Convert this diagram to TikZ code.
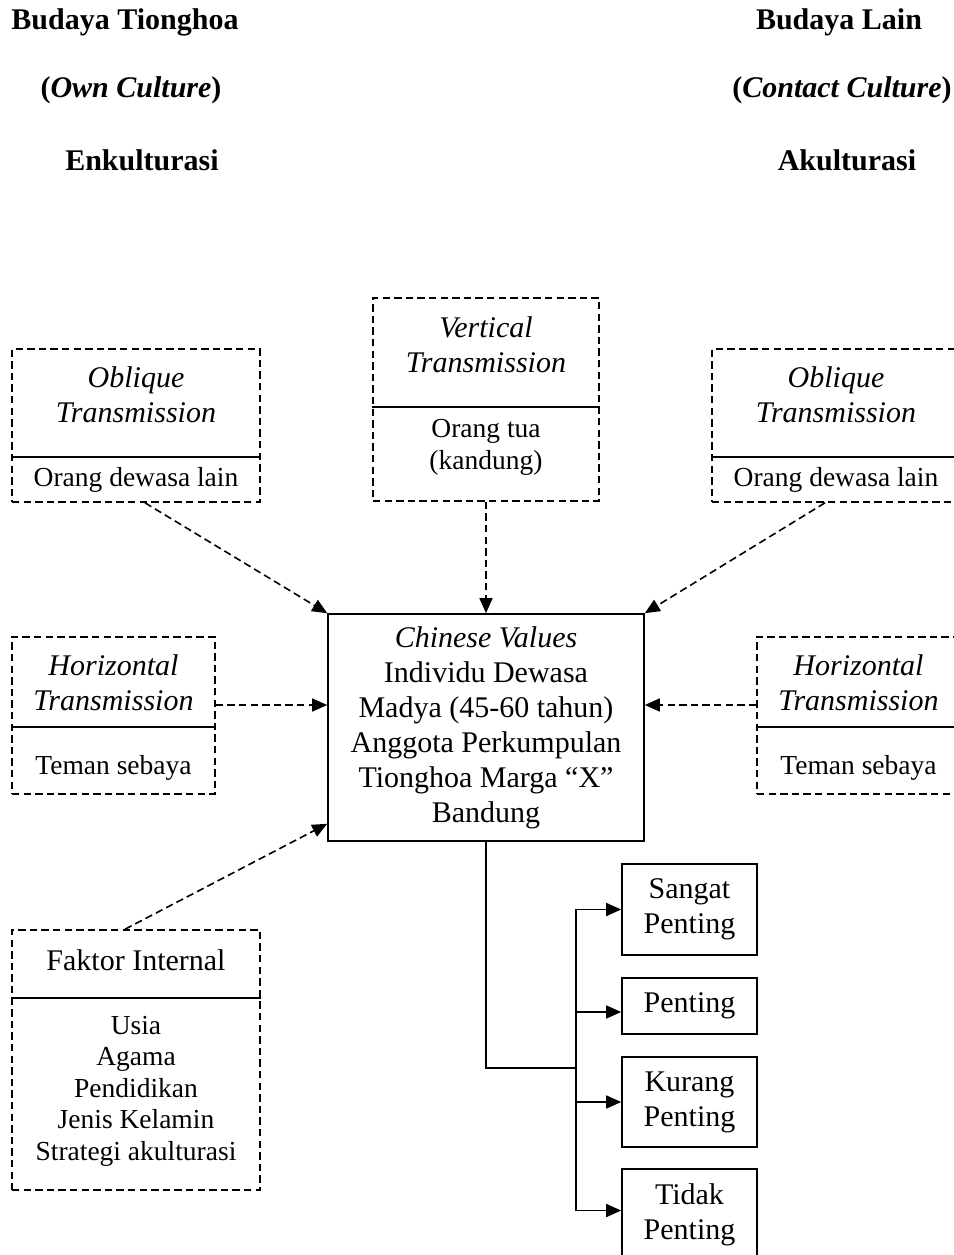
\documentclass[tikz,border=0pt]{standalone}
\usepackage{fontspec}
\setmainfont{Liberation Serif}
\usetikzlibrary{arrows.meta}
\newcommand{\bigfont}{\fontsize{15}{17.5}\selectfont}
\newcommand{\smallfont}{\fontsize{13.75}{15.75}\selectfont}

\begin{document}
\begin{tikzpicture}[x=0.5pt, y=-0.5pt, line width=0.8pt,
	    head/.style={font=\bigfont\bfseries, inner sep=0pt},
	    frame/.style={draw, dash pattern=on 3.7pt off 2.1pt, inner sep=0pt},
	    ttl/.style={font=\bigfont, align=center, inner sep=0pt},
	    ttlit/.style={ttl, font=\bigfont\itshape},
	    sub/.style={font=\smallfont, align=center, inner sep=0pt},
	    mainbox/.style={draw, font=\bigfont, align=center, inner sep=0pt},
	    darr/.style={dash pattern=on 3.7pt off 2.1pt, -{Triangle[length=7.5pt,width=6.5pt]}},
	    sarr/.style={-{Triangle[length=7.5pt,width=6.5pt]}}]
	\clip (0,0) rectangle (954,1255);

	% headings
	\node[head] (hTio) at (125,22) {Budaya Tionghoa};
	\node[head] (hOwn) at (131,90) {(\textit{Own Culture})};
	\node[head] (hEnk) at (142,160) {Enkulturasi};
	\node[head] (hLain) at (839,22) {Budaya Lain};
	\node[head] (hCon) at (842,90) {(\textit{Contact Culture})};
	\node[head] (hAku) at (847,160) {Akulturasi};

	% transmission boxes
	\node[frame, minimum width=124pt, minimum height=76.5pt] (oblL) at (136,425.5) {};
	\node[ttlit] (oblLt) at (136,394.5) {Oblique\\Transmission};
	\node[sub] (oblLs) at (136,480) {Orang dewasa lain};
	\draw (oblL.west |- 0,457) -- (oblL.east |- 0,457);

	\node[frame, minimum width=113pt, minimum height=101.5pt] (vert) at (486,399.5) {};
	\node[ttlit] (vertt) at (486,344.5) {Vertical\\Transmission};
	\node[sub] (verts) at (486,447.5) {Orang tua\\(kandung)};
	\draw (vert.west |- 0,407) -- (vert.east |- 0,407);

	\node[frame, minimum width=124pt, minimum height=76.5pt] (oblR) at (836,425.5) {};
	\node[ttlit] (oblRt) at (836,394.5) {Oblique\\Transmission};
	\node[sub] (oblRs) at (836,480) {Orang dewasa lain};
	\draw (oblR.west |- 0,457) -- (oblR.east |- 0,457);

	\node[frame, minimum width=101.5pt, minimum height=78.5pt] (horL) at (113.5,715.5) {};
	\node[ttlit] (horLt) at (113.5,682.5) {Horizontal\\Transmission};
	\node[sub] (horLs) at (113.5,768) {Teman sebaya};
	\draw (horL.west |- 0,727) -- (horL.east |- 0,727);

	\node[frame, minimum width=101.5pt, minimum height=78.5pt] (horR) at (858.5,715.5) {};
	\node[ttlit] (horRt) at (858.5,682.5) {Horizontal\\Transmission};
	\node[sub] (horRs) at (858.5,768) {Teman sebaya};
	\draw (horR.west |- 0,727) -- (horR.east |- 0,727);

	\node[frame, minimum width=124pt, minimum height=130pt] (fak) at (136,1060) {};
	\node[ttl] (fakt) at (136,960) {Faktor Internal};
	\node[sub] (faks) at (136,1091) {Usia\\Agama\\Pendidikan\\Jenis Kelamin\\Strategi akulturasi};
	\draw (fak.west |- 0,998) -- (fak.east |- 0,998);

	% central box
	\node[mainbox, minimum width=158pt, minimum height=113.5pt] (cv) at (486,727.5)
		{\textit{Chinese Values}\\Individu Dewasa\\Madya (45-60 tahun)\\Anggota Perkumpulan\\Tionghoa Marga ``X''\\Bandung};

	% outcome boxes
	\node[mainbox, minimum width=67.5pt, minimum height=45.5pt] (sp) at (689.5,909.5) {Sangat\\Penting};
	\node[mainbox, minimum width=67.5pt, minimum height=28pt] (pen) at (689.5,1006) {Penting};
	\node[mainbox, minimum width=67.5pt, minimum height=45pt] (kur) at (689.5,1102) {Kurang\\Penting};
	\node[mainbox, minimum width=67.5pt, minimum height=45.5pt] (tid) at (689.5,1214.5) {Tidak\\Penting};
	\coordinate (bus) at (576,1068);

	% connectors
	\draw[darr] ([xshift=4.5pt]oblL.south) -- (cv.north west);
	\draw[darr] (vert.south) -- (cv.north);
	\draw[darr] ([xshift=-5.5pt]oblR.south) -- (cv.north east);
	\draw[darr] ([yshift=5.25pt]horL.east) -- ([yshift=5.25pt]horL.east -| cv.west);
	\draw[darr] ([yshift=5.25pt]horR.west) -- ([yshift=5.25pt]horR.west -| cv.east);
	\draw[darr] ([xshift=-5.5pt]fak.north) -- ([yshift=9pt]cv.south west);

	\draw (cv.south) |- (bus);
	\draw[sarr] (bus) |- (sp.west);
	\draw[sarr] (bus) |- ([yshift=-3pt]pen.west);
	\draw[sarr] (bus) |- (kur.west);
	\draw[sarr] (bus) |- ([yshift=2pt]tid.west);
\end{tikzpicture}
\end{document}
